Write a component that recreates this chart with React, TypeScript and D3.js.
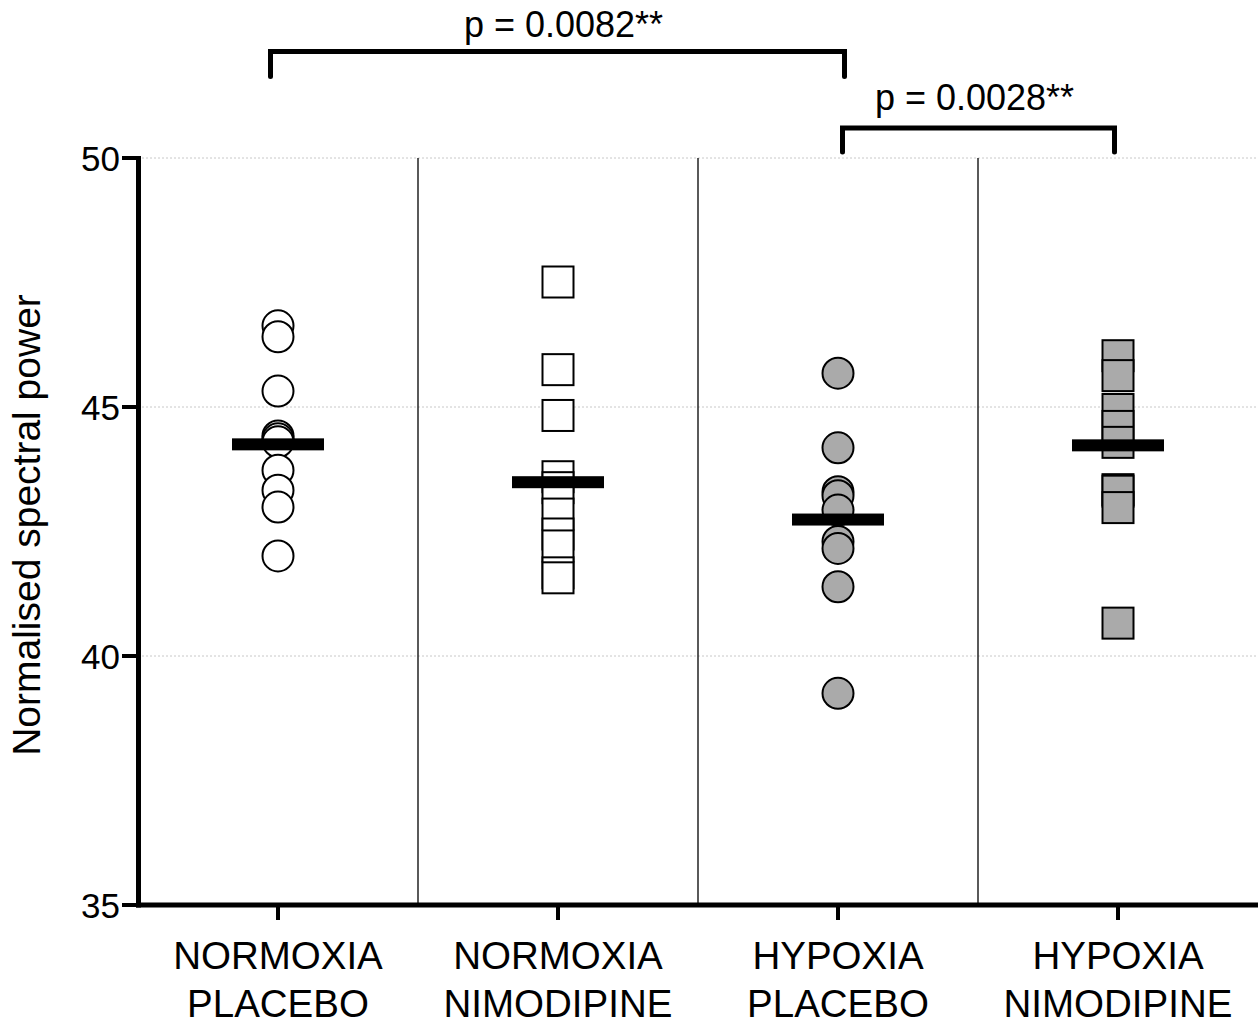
import React from "react";
import * as d3 from "d3";

const categories = ["NORMOXIA\nPLACEBO", "NORMOXIA\nNIMODIPINE", "HYPOXIA\nPLACEBO", "HYPOXIA\nNIMODIPINE"];
const markerShapes = ["circle", "square", "circle", "square"];
const markerFills = ["#ffffff", "#ffffff", "#aaaaaa", "#aaaaaa"];

const normoxiaPlacebo = [46.63, 46.41, 45.32, 44.42, 44.36, 44.30, 43.73, 43.33, 42.99, 42.01];
const normoxiaNimodipine = [47.51, 45.75, 44.83, 43.60, 43.38, 42.85, 42.45, 42.21, 41.67, 41.57];
const hypoxiaPlacebo = [45.68, 44.18, 43.30, 43.22, 42.93, 42.30, 42.16, 41.39, 39.25];
const hypoxiaNimodipine = [46.03, 45.63, 44.95, 44.61, 44.29, 43.34, 43.31, 42.98, 40.66];
const seriesValues = [normoxiaPlacebo, normoxiaNimodipine, hypoxiaPlacebo, hypoxiaNimodipine];
const groupMeans = [44.25, 43.49, 42.74, 44.23];

const yTicks = [35, 40, 45, 50];
const gridTicks = [40, 45, 50];
const yLabel = "Normalised spectral power";

const comparisons = [
  { from: 0, to: 2, label: "p = 0.0082**" },
  { from: 2, to: 3, label: "p = 0.0028**" },
];

const W = 1258;
const H = 1024;
const FONT = "'Liberation Sans', Arial, Helvetica, sans-serif";

export default function App() {
  const x = d3.scaleBand<string>().domain(categories).range([138, 1258]).padding(0);
  const y = d3.scaleLinear().domain([35, 50]).range([905, 158]);
  const bw = x.bandwidth();
  const cx = (i: number) => (x(categories[i]) as number) + bw / 2;

  const r = 15.5;
  const side = 31;
  const meanHalf = 46;

  const bracketY = [51.5, 128];
  const bracketLeg = [25, 24];
  const textY = [37, 110];
  const bracketOffsets = [[-7.5, 6.5], [4.5, -3.5]];
  const textShift = [6, -4];

  return (
    <svg width={W} height={H} style={{ position: "absolute", left: 0, top: 0, background: "#fff" }} fontFamily={FONT}>
      {/* grid */}
      {gridTicks.map((t) => (
        <line key={"g" + t} x1={138} x2={W} y1={y(t)} y2={y(t)} stroke="#c8c8c8" strokeWidth={1} strokeDasharray="2 2" />
      ))}
      {/* dividers */}
      {categories.slice(1).map((c) => (
        <line key={"d" + c} x1={x(c) as number} x2={x(c) as number} y1={y(50)} y2={y(35)} stroke="#000" strokeWidth={1.3} />
      ))}
      {/* points */}
      {seriesValues.map((vals, i) =>
        vals.map((v, j) =>
          markerShapes[i] === "circle" ? (
            <circle key={`p${i}-${j}`} cx={cx(i)} cy={y(v)} r={r} fill={markerFills[i]} stroke="#000" strokeWidth={2} />
          ) : (
            <rect key={`p${i}-${j}`} x={cx(i) - side / 2} y={y(v) - side / 2} width={side} height={side} fill={markerFills[i]} stroke="#000" strokeWidth={2} />
          )
        )
      )}
      {/* means */}
      {groupMeans.map((m, i) => (
        <rect key={"m" + i} x={cx(i) - meanHalf} y={y(m) - 6} width={meanHalf * 2} height={12} fill="#000" />
      ))}
      {/* y axis */}
      <line x1={138.5} x2={138.5} y1={y(50) - 2} y2={y(35) + 2.5} stroke="#000" strokeWidth={5} />
      {yTicks.map((t) => (
        <g key={"yt" + t}>
          <line x1={122} x2={138} y1={y(t)} y2={y(t)} stroke="#000" strokeWidth={4} />
          <text x={120} y={y(t)} dy="0.36em" textAnchor="end" fontSize={35} fill="#000">
            {t}
          </text>
        </g>
      ))}
      {/* x axis */}
      <line x1={136} x2={W} y1={905} y2={905} stroke="#000" strokeWidth={5} />
      {categories.map((c, i) => (
        <g key={"xt" + i}>
          <line x1={cx(i)} x2={cx(i)} y1={905} y2={920} stroke="#000" strokeWidth={4} />
          {c.split("\n").map((ln, k) => (
            <text key={k} x={cx(i)} y={969 + k * 48} textAnchor="middle" fontSize={38.5} fill="#000">
              {ln}
            </text>
          ))}
        </g>
      ))}
      {/* y label */}
      <text transform={`translate(40, 525) rotate(-90)`} textAnchor="middle" fontSize={39} fill="#000">
        {yLabel}
      </text>
      {/* comparisons */}
      {comparisons.map((cmp, k) => {
        const x1 = cx(cmp.from) + bracketOffsets[k][0];
        const x2 = cx(cmp.to) + bracketOffsets[k][1];
        const by = bracketY[k];
        return (
          <g key={"c" + k}>
            <path
              d={`M${x1},${by + bracketLeg[k]}V${by}H${x2}V${by + bracketLeg[k]}`}
              fill="none"
              stroke="#000"
              strokeWidth={5}
              strokeLinecap="round"
              strokeLinejoin="miter"
            />
            <text x={(x1 + x2) / 2 + textShift[k]} y={textY[k]} textAnchor="middle" fontSize={36} fill="#000">
              {cmp.label}
            </text>
          </g>
        );
      })}
    </svg>
  );
}
